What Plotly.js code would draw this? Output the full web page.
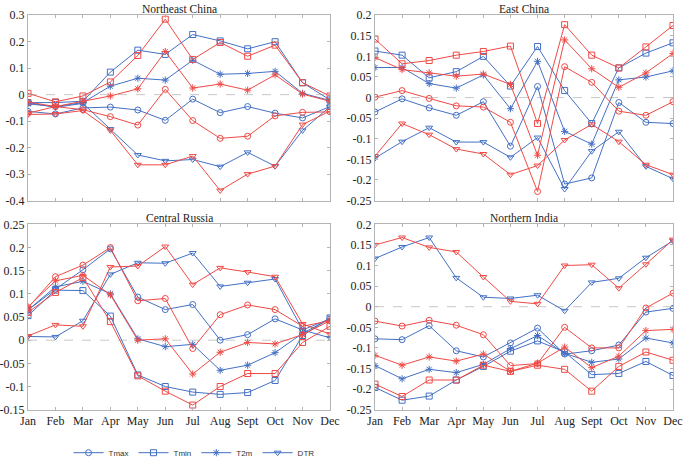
<!DOCTYPE html>
<html>
<head>
<meta charset="utf-8">
<script src="https://cdn.plot.ly/plotly-3.0.1.min.js"></script>
<style>html,body{margin:0;padding:0;background:#fff}#chart{width:685px;height:461px}</style>
</head>
<body>
<div id="chart"></div>
<script>
const months = ["Jan","Feb","Mar","Apr","May","Jun","Jul","Aug","Sept","Oct","Nov","Dec"];
const variables = ["Tmax","Tmin","T2m","DTR"];
const regionTitles = ["Northeast China","East China","Central Russia","Northern India"];

// Northeast China (blue / red)
const neTmaxBlue = [-0.063,-0.073,-0.050,-0.047,-0.058,-0.097,-0.017,-0.068,-0.045,-0.070,-0.088,-0.045];
const neTmaxRed  = [-0.070,-0.045,-0.057,-0.083,-0.115,0.020,-0.098,-0.165,-0.157,-0.080,-0.067,-0.065];
const neTminBlue = [-0.030,-0.030,-0.025,0.085,0.168,0.152,0.227,0.203,0.173,0.200,0.045,-0.020];
const neTminRed  = [0.005,-0.027,-0.005,0.048,0.148,0.285,0.133,0.197,0.145,0.187,0.045,-0.005];
const neT2mBlue  = [-0.035,-0.045,-0.030,0.032,0.062,0.055,0.130,0.077,0.080,0.088,0.005,-0.022];
const neT2mRed   = [-0.028,-0.045,-0.025,-0.005,0.022,0.163,0.025,0.040,0.017,0.075,0.002,-0.025];
const neDtrBlue  = [-0.030,-0.048,-0.033,-0.130,-0.228,-0.250,-0.245,-0.272,-0.218,-0.270,-0.135,-0.045];
const neDtrRed   = [-0.075,-0.073,-0.060,-0.135,-0.265,-0.265,-0.232,-0.362,-0.300,-0.270,-0.113,-0.062];

// East China
const ecTmaxBlue = [-0.035,-0.003,-0.025,-0.043,-0.010,-0.118,0.027,-0.210,-0.195,-0.012,-0.060,-0.063];
const ecTmaxRed  = [0.001,0.017,-0.002,-0.020,-0.023,-0.060,-0.228,0.075,0.037,-0.033,-0.043,-0.010];
const ecTminBlue = [0.113,0.103,0.048,0.063,0.100,0.028,0.124,0.017,-0.063,0.072,0.108,0.133];
const ecTminRed  = [0.142,0.082,0.090,0.103,0.112,0.125,-0.063,0.177,0.103,0.072,0.123,0.175];
const ecT2mBlue  = [0.073,0.073,0.034,0.023,0.055,-0.027,0.088,-0.082,-0.113,0.043,0.050,0.065];
const ecT2mRed   = [0.097,0.068,0.060,0.052,0.057,0.032,-0.140,0.140,0.070,0.025,0.060,0.107];
const ecDtrBlue  = [-0.147,-0.107,-0.073,-0.108,-0.108,-0.145,-0.097,-0.222,-0.130,-0.083,-0.167,-0.197];
const ecDtrRed   = [-0.142,-0.063,-0.090,-0.125,-0.137,-0.187,-0.165,-0.103,-0.065,-0.107,-0.163,-0.187];

// Central Russia
const crTmaxBlue = [0.065,0.110,0.152,0.197,0.093,0.066,0.077,0.000,0.012,0.046,0.022,0.046];
const crTmaxRed  = [0.070,0.137,0.162,0.200,0.085,0.090,-0.018,0.055,0.076,0.066,0.030,0.042];
const crTminBlue = [0.053,0.108,0.107,0.052,-0.075,-0.100,-0.112,-0.117,-0.113,-0.087,0.010,0.048];
const crTminRed  = [0.060,0.103,0.135,0.040,-0.077,-0.110,-0.140,-0.100,-0.072,-0.072,-0.005,0.030];
const crT2mBlue  = [0.065,0.115,0.127,0.100,0.003,-0.014,-0.009,-0.065,-0.054,-0.027,0.015,0.046];
const crT2mRed   = [0.072,0.128,0.140,0.098,0.000,0.003,-0.073,-0.026,-0.005,-0.008,0.012,0.042];
const crDtrBlue  = [0.008,0.007,0.042,0.142,0.167,0.166,0.188,0.116,0.124,0.132,0.022,0.005];
const crDtrRed   = [0.009,0.033,0.030,0.158,0.160,0.202,0.120,0.156,0.147,0.137,0.035,0.013];

// Northern India
const niTmaxBlue = [-0.078,-0.080,-0.046,-0.107,-0.122,-0.088,-0.052,-0.115,-0.107,-0.093,-0.013,-0.004];
const niTmaxRed  = [-0.035,-0.047,-0.033,-0.045,-0.068,-0.143,-0.138,-0.050,-0.100,-0.100,-0.003,0.033];
const niTminBlue = [-0.196,-0.227,-0.217,-0.178,-0.145,-0.108,-0.083,-0.110,-0.165,-0.162,-0.133,-0.167];
const niTminRed  = [-0.188,-0.218,-0.178,-0.178,-0.142,-0.157,-0.142,-0.152,-0.205,-0.145,-0.110,-0.130];
const niT2mBlue  = [-0.143,-0.175,-0.152,-0.160,-0.140,-0.102,-0.070,-0.113,-0.135,-0.127,-0.076,-0.088];
const niT2mRed   = [-0.118,-0.142,-0.122,-0.132,-0.115,-0.157,-0.137,-0.098,-0.148,-0.120,-0.058,-0.055];
const niDtrBlue  = [0.117,0.145,0.168,0.070,0.023,0.020,0.028,-0.010,0.059,0.069,0.119,0.160];
const niDtrRed   = [0.150,0.168,0.144,0.133,0.072,0.013,0.007,0.100,0.102,0.045,0.103,0.163];

// y tick values / labels per panel
const neTicks = [-0.4,-0.3,-0.2,-0.1,0,0.1,0.2,0.3];
const neTickText = ["-0.4","-0.3","-0.2","-0.1","0","0.1","0.2","0.3"];
const ecTicks = [-0.25,-0.2,-0.15,-0.1,-0.05,0,0.05,0.1,0.15,0.2];
const ecTickText = ["-0.25","-0.2","-0.15","-0.1","-0.05","0","0.05","0.1","0.15","0.2"];
const crTicks = [-0.15,-0.1,-0.05,0,0.05,0.1,0.15,0.2,0.25];
const crTickText = ["-0.15","-0.1","-0.05","0","0.05","0.1","0.15","0.2","0.25"];
const niTicks = ecTicks;
const niTickText = ecTickText;

const BLUE = "#4470c4";
const RED = "#ee4a46";
const symbols = {Tmax:"circle-open", Tmin:"square-open", T2m:"asterisk-open", DTR:"triangle-down-open"};

const regions = [
  {Tmax:[neTmaxBlue,neTmaxRed], Tmin:[neTminBlue,neTminRed], T2m:[neT2mBlue,neT2mRed], DTR:[neDtrBlue,neDtrRed]},
  {Tmax:[ecTmaxBlue,ecTmaxRed], Tmin:[ecTminBlue,ecTminRed], T2m:[ecT2mBlue,ecT2mRed], DTR:[ecDtrBlue,ecDtrRed]},
  {Tmax:[crTmaxBlue,crTmaxRed], Tmin:[crTminBlue,crTminRed], T2m:[crT2mBlue,crT2mRed], DTR:[crDtrBlue,crDtrRed]},
  {Tmax:[niTmaxBlue,niTmaxRed], Tmin:[niTminBlue,niTminRed], T2m:[niT2mBlue,niT2mRed], DTR:[niDtrBlue,niDtrRed]}
];

const traces = [];
regions.forEach((reg, i) => {
  const ax = i === 0 ? "" : String(i + 1);
  [0, 1].forEach(k => {
    variables.forEach(v => {
      const col = k === 0 ? BLUE : RED;
      traces.push({
        type: "scatter", mode: "lines+markers",
        x: months, y: reg[v][k],
        xaxis: "x" + ax, yaxis: "y" + ax,
        name: v,
        showlegend: (i === 0 && k === 0),
        line: {color: col, width: 1},
        marker: {symbol: symbols[v], size: 6, color: col, line: {color: col, width: 1}},
        hoverinfo: "skip"
      });
    });
  });
});

const W = 685, H = 461;
const colX = [[28, 330], [375, 673]];
const rowY = [[16, 211], [236, 431]];
const yRanges = [[-0.4, 0.3], [-0.25, 0.2], [-0.15, 0.25], [-0.25, 0.2]];
const yTickVals = [neTicks, ecTicks, crTicks, niTicks];
const yTickTexts = [neTickText, ecTickText, crTickText, niTickText];

const serif = "Liberation Serif, Times New Roman, serif";
const layout = {
  width: W, height: H,
  margin: {l: 0, r: 0, t: 0, b: 0},
  paper_bgcolor: "#fff", plot_bgcolor: "#fff",
  showlegend: true,
  legend: {
    orientation: "h", xref: "container", yref: "container",
    x: 0.10, y: 0.018, xanchor: "left", yanchor: "middle",
    font: {family: "Liberation Sans, Arial, sans-serif", size: 8, color: "#333"},
    itemwidth: 30,
    tracegroupgap: 0, bgcolor: "rgba(0,0,0,0)"
  },
  annotations: [],
  shapes: []
};

for (let i = 0; i < 4; i++) {
  const col = i % 2, row = Math.floor(i / 2);
  const ax = i === 0 ? "" : String(i + 1);
  const xd = [colX[col][0] / W, colX[col][1] / W];
  const yd = [1 - rowY[row][1] / H, 1 - rowY[row][0] / H];
  layout["xaxis" + ax] = {
    domain: xd, anchor: "y" + ax, type: "category",
    range: [0, 11], showgrid: false, zeroline: false,
    showline: true, mirror: "ticks", linecolor: "#b4b4b4", linewidth: 1,
    ticks: "inside", ticklen: 3, tickcolor: "#b4b4b4",
    showticklabels: row === 1,
    tickfont: {family: serif, size: 12, color: "#222"},
    fixedrange: true
  };
  layout["yaxis" + ax] = {
    domain: yd, anchor: "x" + ax,
    range: yRanges[i], showgrid: false, zeroline: false,
    showline: true, mirror: "ticks", linecolor: "#b4b4b4", linewidth: 1,
    ticks: "inside", ticklen: 3, tickcolor: "#b4b4b4",
    tickmode: "array", tickvals: yTickVals[i], ticktext: yTickTexts[i],
    tickfont: {family: serif, size: 12, color: "#222"},
    fixedrange: true
  };
  layout.annotations.push({
    text: regionTitles[i], showarrow: false,
    xref: "x" + ax + " domain", yref: "y" + ax + " domain",
    x: 0.5, y: 1, xanchor: "center", yanchor: "bottom", yshift: -1,
    borderpad: 0,
    font: {family: serif, size: 11.5, color: "#222"}
  });
  layout.shapes.push({
    type: "line", layer: "below",
    xref: "x" + ax + " domain", x0: 0, x1: 1,
    yref: "y" + ax, y0: 0, y1: 0,
    line: {color: "#c8c8c8", width: 1, dash: "dash"}
  });
}

Plotly.newPlot("chart", traces, layout, {staticPlot: true, displayModeBar: false});
</script>
</body>
</html>
